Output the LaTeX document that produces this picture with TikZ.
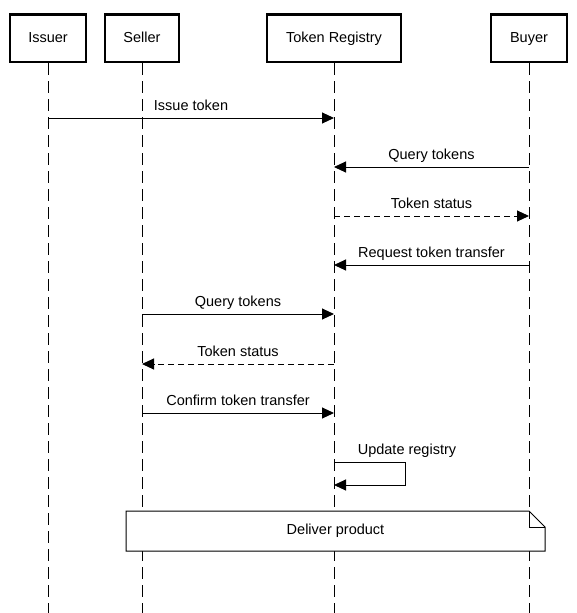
\documentclass[tikz,border=0pt]{standalone}
\usepackage{fontspec}
\setmainfont{Liberation Sans}
\usetikzlibrary{arrows.meta}

\begin{document}
\begin{tikzpicture}[x=1pt,y=-1pt,
  every node/.style={font=\fontsize{14.5}{17}\selectfont},
  actor/.style={draw,line width=2.5pt,minimum height=47.5pt,inner sep=0pt,text height=10.5pt,text depth=2.5pt},
  life/.style={line width=1pt,dash pattern=on 12pt off 6pt},
  msg/.style={line width=1pt,-{Triangle[length=12pt,width=11pt]}},
  reply/.style={msg,dash pattern=on 6pt off 4pt},
  lbl/.style={above=4pt,text depth=0pt}]
\useasboundingbox (0,0) rectangle (576,613);

% participants
\node [actor,minimum width=76pt] (issuer) at (48,38) {Issuer};
\node [actor,minimum width=74pt] (seller) at (142,38) {Seller};
\node [actor,minimum width=134pt] (registry) at (334,38) {Token Registry};
\node [actor,minimum width=76pt] (buyer) at (529,38) {Buyer};

% lifelines
\foreach \p in {issuer,seller,registry,buyer}
  \draw [life] (\p.south) -- (\p |- 0,613);

% messages
\draw [msg] (issuer |- 0,118) -- node [lbl] {Issue token} (registry |- 0,118);
\draw [msg] (buyer |- 0,167) -- node [lbl] {Query tokens} (registry |- 0,167);
\draw [reply] (registry |- 0,216) -- node [lbl] {Token status} (buyer |- 0,216);
\draw [msg] (buyer |- 0,265) -- node [lbl] {Request token transfer} (registry |- 0,265);
\draw [msg] (seller |- 0,314) -- node [lbl] {Query tokens} (registry |- 0,314);
\draw [reply] (registry |- 0,364) -- node [lbl] {Token status} (seller |- 0,364);
\draw [msg] (seller |- 0,413) -- node [lbl] {Confirm token transfer} (registry |- 0,413);

% self call
\coordinate (loop) at (405,462);
\draw [msg] (registry |- loop) -- (loop) -- (405,485) -- (registry |- 0,485);
\node [above=4pt,text depth=0pt] (upd) at (407,462) {Update registry};

% note
\coordinate (nw) at (126,511);
\coordinate (se) at (545,551);
\filldraw [fill=white,line width=1pt] (nw) -- (529,511) -- (545,527) -- (se) -- (nw |- se) -- cycle;
\draw [line width=1pt] (529,511) |- (545,527);
\node (note) at (335.5,531) {Deliver product};
\end{tikzpicture}
\end{document}
